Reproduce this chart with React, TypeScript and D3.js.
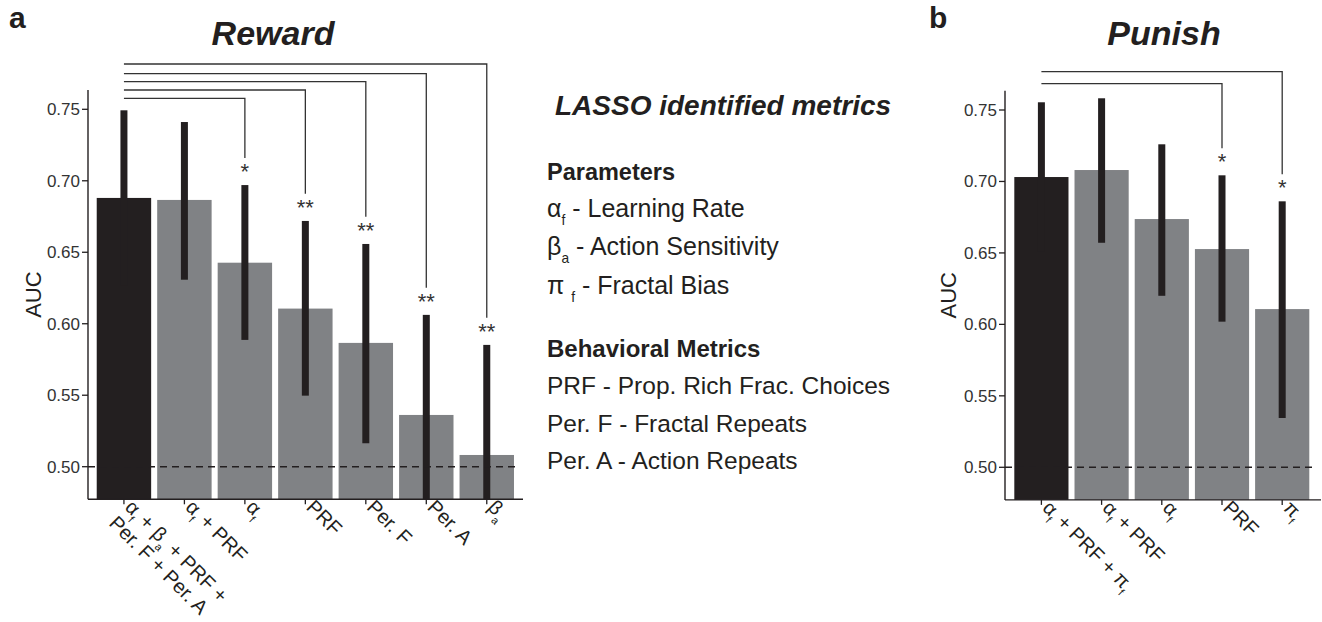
import * as d3 from "d3";

// Reward panel (a)
const rewardLabels = [
  "α_f + β_a + PRF +|Per. F + Per. A",
  "α_f + PRF",
  "α_f",
  "PRF",
  "Per. F",
  "Per. A",
  "β_a",
];
const rewardAUC = [0.688, 0.6866, 0.6427, 0.6106, 0.5866, 0.5362, 0.5082];
const rewardLow = [0.6267, 0.6308, 0.5887, 0.5497, 0.5164, 0.4662, 0.4312];
const rewardHigh = [0.7493, 0.7411, 0.697, 0.6719, 0.6558, 0.6062, 0.5852];
const rewardStars = ["", "", "*", "**", "**", "**", "**"];
const rewardBracket = [null, null, 0.7577, 0.7635, 0.7694, 0.775, 0.7817];

// Punish panel (b)
const punishLabels = ["α_f + PRF + π_f", "α_f + PRF", "α_f", "PRF", "π_f"];
const punishAUC = [0.7031, 0.708, 0.6737, 0.6527, 0.6107];
const punishLow = [0.6508, 0.6571, 0.62, 0.6019, 0.5345];
const punishHigh = [0.7554, 0.7582, 0.726, 0.7043, 0.6861];
const punishStars = ["", "", "", "*", "*"];
const punishBracket = [null, null, null, 0.7684, 0.7768];

const yTicks = [0.5, 0.55, 0.6, 0.65, 0.7, 0.75];

// legend text
const paramLines = ["α_f - Learning Rate", "β_a - Action Sensitivity", "π _f - Fractal Bias"];
const behavLines = ["PRF - Prop. Rich Frac. Choices", "Per. F - Fractal Repeats", "Per. A - Action Repeats"];

const INK = "#231f20";
const GREY = "#808285";
const FONT = "'Liberation Sans', Arial, Helvetica, sans-serif";

// split "α_f" style strings into normal / subscript pieces
function segments(s: string) {
  const out: { t: string; sub: boolean }[] = [];
  let buf = "";
  for (let i = 0; i < s.length; i++) {
    if (s[i + 1] === "_") {
      buf += s[i];
      out.push({ t: buf, sub: false });
      buf = "";
      out.push({ t: s[i + 2], sub: true });
      i += 2;
    } else buf += s[i];
  }
  if (buf) out.push({ t: buf, sub: false });
  return out;
}

function Rich({ s, size }: { s: string; size: number }) {
  const segs = segments(s);
  let cur = 0;
  return (
    <>
      {segs.map((g, i) => {
        const target = g.sub ? size * 0.32 : 0;
        const dy = target - cur;
        cur = target;
        return (
          <tspan key={i} dy={dy} fontSize={g.sub ? size * 0.55 : size}>
            {g.t}
          </tspan>
        );
      })}
    </>
  );
}

function Panel({ labels, auc, low, high, stars, bracket, x0, x1, axisX, axisEnd, y50, y75, title, titleX, letter, letterX, aucX }: any) {
  const y = d3.scaleLinear().domain([0.5, 0.75]).range([y50, y75]);
  const x = d3
    .scaleBand<number>()
    .domain(d3.range(labels.length))
    .range([x0, x1])
    .paddingInner(0.1)
    .paddingOuter(0.05);
  const bw = x.bandwidth();
  const yMin = 0.4772;
  const base = y(yMin);
  const top = y(0.7635);
  const cx = (i: number) => (x(i) as number) + bw / 2;

  return (
    <g fontFamily={FONT}>
      <text x={letterX} y={28} fontSize={30} fontWeight="bold" fill={INK}>
        {letter}
      </text>
      <text x={titleX} y={45} fontSize={34} fontWeight="bold" fontStyle="italic" textAnchor="middle" fill={INK}>
        {title}
      </text>

      {auc.map((v: number, i: number) => (
        <rect key={"b" + i} x={x(i)} y={y(v)} width={bw} height={base - y(v)} fill={i === 0 ? INK : GREY} />
      ))}
      {auc.map((_: number, i: number) => (
        <rect
          key={"e" + i}
          x={cx(i) - 3.5}
          y={y(high[i])}
          width={7}
          height={y(Math.max(low[i], yMin)) - y(high[i])}
          fill={INK}
        />
      ))}

      <line x1={axisX} x2={axisEnd - 4} y1={y(0.5)} y2={y(0.5)} stroke={INK} strokeWidth={1.4} strokeDasharray="7,5" />

      {/* significance brackets */}
      {bracket.map((b: number | null, i: number) =>
        b == null ? null : (
          <g key={"s" + i}>
            <polyline
              points={`${cx(0)},${y(b)} ${cx(i)},${y(b)} ${cx(i)},${y(high[i] + 0.019)}`}
              fill="none"
              stroke="#333"
              strokeWidth={1.3}
            />
            <text x={cx(i)} y={y(high[i] + 0.0125) + 12} fontSize={22} textAnchor="middle" fill="#333">
              {stars[i]}
            </text>
          </g>
        )
      )}

      {/* axes */}
      <line x1={axisX} x2={axisX} y1={top} y2={base} stroke={INK} strokeWidth={1.4} />
      <line x1={axisX} x2={axisEnd} y1={base} y2={base} stroke={INK} strokeWidth={1.4} />
      {yTicks.map((t) => (
        <g key={t}>
          <line x1={axisX - 6} x2={axisX} y1={y(t)} y2={y(t)} stroke={INK} strokeWidth={1.3} />
          <text x={axisX - 8} y={y(t)} dy="0.35em" fontSize={17} textAnchor="end" fill="#333">
            {d3.format(".2f")(t)}
          </text>
        </g>
      ))}
      <text
        transform={`translate(${aucX},${(top + base) / 2}) rotate(-90)`}
        fontSize={22}
        textAnchor="middle"
        dy="0.35em"
        fill={INK}
      >
        AUC
      </text>

      {labels.map((l: string, i: number) => (
        <g key={"l" + i}>
          <line x1={cx(i)} x2={cx(i)} y1={base} y2={base + 5} stroke={INK} strokeWidth={1.3} />
          <g transform={`translate(${cx(i)},${base + 9}) rotate(45)`}>
            {l.split("|").map((line, k) => (
              <text key={k} x={0} y={k * 22.5} dy="0.35em" fontSize={20} fill={INK}>
                <Rich s={line} size={20} />
              </text>
            ))}
          </g>
        </g>
      ))}
    </g>
  );
}

export default function App() {
  return (
    <div style={{ position: "absolute", left: 0, top: 0 }}>
      <svg width={1322} height={622} style={{ display: "block", background: "#fff" }}>
        <Panel
          labels={rewardLabels}
          auc={rewardAUC}
          low={rewardLow}
          high={rewardHigh}
          stars={rewardStars}
          bracket={rewardBracket}
          x0={93.7}
          x1={517}
          axisX={88}
          axisEnd={523}
          y50={466.7}
          y75={109.3}
          title="Reward"
          titleX={273}
          letter="a"
          letterX={9}
          aucX={33}
        />
        <Panel
          labels={punishLabels}
          auc={punishAUC}
          low={punishLow}
          high={punishHigh}
          stars={punishStars}
          bracket={punishBracket}
          x0={1011.3}
          x1={1312.3}
          axisX={1005}
          axisEnd={1321}
          y50={467.3}
          y75={110}
          title="Punish"
          titleX={1164}
          letter="b"
          letterX={929}
          aucX={948}
        />

        <g fontFamily={FONT} fill={INK}>
          <text x={555} y={115} fontSize={28} fontWeight="bold" fontStyle="italic">
            LASSO identified metrics
          </text>
          <text x={547} y={180} fontSize={23.5} fontWeight="bold">
            Parameters
          </text>
          {paramLines.map((s, i) => (
            <text key={s} x={547} y={217 + i * 38.3} fontSize={25}>
              <Rich s={s} size={25} />
            </text>
          ))}
          <text x={547} y={357} fontSize={24} fontWeight="bold">
            Behavioral Metrics
          </text>
          {behavLines.map((s, i) => (
            <text key={s} x={547} y={394 + i * 37.7} fontSize={24.5}>
              {s}
            </text>
          ))}
        </g>
      </svg>
    </div>
  );
}
